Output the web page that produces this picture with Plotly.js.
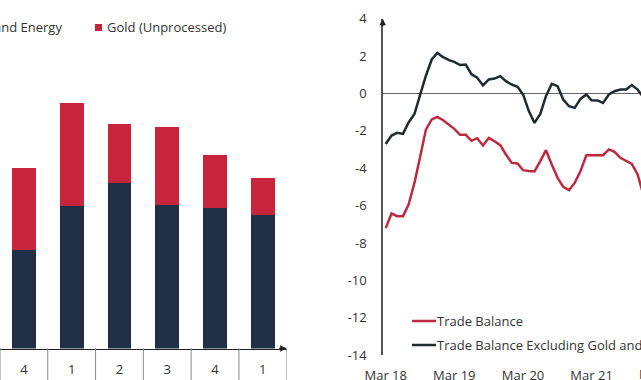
<!DOCTYPE html>
<html>
<head>
<meta charset="utf-8">
<script src="https://cdn.plot.ly/plotly-3.0.1.min.js"></script>
<style>html,body{margin:0;padding:0;background:#fff;}#chart{width:641px;height:380px;}</style>
</head>
<body>
<div id="chart"></div>
<script>
// Left panel: quarterly stacked bars
const quarters = ['4', '1', '2', '3', '4', '1'];
const exGoldEnergy = [9.9, 14.3, 16.6, 14.4, 14.1, 13.4];
const goldUnprocessed = [8.2, 10.3, 5.9, 7.8, 5.3, 3.7];

// Right panel: monthly trade balance
const months = ['2018-03','2018-04','2018-05','2018-06','2018-07','2018-08','2018-09','2018-10','2018-11','2018-12',
  '2019-01','2019-02','2019-03','2019-04','2019-05','2019-06','2019-07','2019-08','2019-09','2019-10','2019-11','2019-12',
  '2020-01','2020-02','2020-03','2020-04','2020-05','2020-06','2020-07','2020-08','2020-09','2020-10','2020-11','2020-12',
  '2021-01','2021-02','2021-03','2021-04','2021-05','2021-06','2021-07','2021-08','2021-09','2021-10','2021-11','2021-12',
  '2022-01'];
const tradeBalance = [-7.2,-6.42,-6.56,-6.56,-5.94,-4.78,-3.35,-1.93,-1.39,-1.25,-1.43,-1.66,-1.89,-2.21,-2.21,-2.53,-2.39,-2.78,-2.37,-2.55,-2.76,-3.26,-3.71,-3.74,-4.10,-4.14,-4.17,-3.62,-3.03,-3.80,-4.51,-4.99,-5.17,-4.78,-4.15,-3.30,-3.30,-3.30,-3.30,-2.99,-3.12,-3.44,-3.58,-3.76,-4.33,-5.4,-6.2];
const tradeBalanceExGE = [-2.7,-2.25,-2.1,-2.16,-1.55,-1.1,-0.05,0.95,1.82,2.17,1.94,1.78,1.69,1.52,1.55,1.02,0.84,0.43,0.75,0.80,0.93,0.66,0.48,0.36,-0.05,-0.94,-1.57,-1.09,-0.14,0.52,0.39,-0.32,-0.68,-0.77,-0.29,-0.05,-0.36,-0.37,-0.50,-0.05,0.12,0.21,0.21,0.45,0.21,-0.2,-0.5];
const yTickVals = [4, 2, 0, -2, -4, -6, -8, -10, -12, -14];
const yTickText = ['4', '2', '0', '-2', '-4', '-6', '-8', '-10', '-12', '-14'];
const legendLeft = ['Excluding Gold and Energy', 'Gold (Unprocessed)'];
const legendRight = ['Trade Balance', 'Trade Balance Excluding Gold and Energy'];

const W = 641, H = 380;
const px = v => v / W, py = v => (H - v) / H;
const NAVY = '#1f2f45', RED = '#c8243c';
const LRED = '#bd2a40', DARK = '#1e2b30';
const FONT = {family: '"Open Sans", sans-serif', size: 13, color: '#333'};
const idx = quarters.map((q, i) => i);

const traces = [
  {type: 'bar', x: idx, y: exGoldEnergy, name: legendLeft[0], marker: {color: NAVY}, width: 0.5, xaxis: 'x', yaxis: 'y'},
  {type: 'bar', x: idx, y: goldUnprocessed, name: legendLeft[1], marker: {color: RED}, width: 0.5, xaxis: 'x', yaxis: 'y'},
  {type: 'scatter', mode: 'lines', x: months, y: tradeBalance, name: legendRight[0], line: {color: LRED, width: 2.5}, xaxis: 'x2', yaxis: 'y2'},
  {type: 'scatter', mode: 'lines', x: months, y: tradeBalanceExGE, name: legendRight[1], line: {color: DARK, width: 2.5}, xaxis: 'x2', yaxis: 'y2'}
];

const shapes = [];
for (let k = 0; k <= quarters.length; k++) {
  shapes.push({type: 'line', xref: 'x', yref: 'paper', x0: k - 0.5, x1: k - 0.5, y0: py(348.5), y1: -0.05, line: {color: '#888', width: 1}});
}
shapes.push({type: 'rect', xref: 'paper', yref: 'paper', x0: px(95), x1: px(102), y0: py(31), y1: py(24), fillcolor: RED, line: {width: 0}});
shapes.push({type: 'line', xref: 'paper', yref: 'paper', x0: px(412), x1: px(436), y0: py(321), y1: py(321), line: {color: LRED, width: 2.5}});
shapes.push({type: 'line', xref: 'paper', yref: 'paper', x0: px(412), x1: px(436), y0: py(345), y1: py(345), line: {color: DARK, width: 2.5}});

const annotations = [
  {xref: 'paper', yref: 'paper', x: px(64), y: py(27), xanchor: 'right', yanchor: 'middle', text: legendLeft[0], showarrow: false, font: FONT},
  {xref: 'paper', yref: 'paper', x: px(105), y: py(27), xanchor: 'left', yanchor: 'middle', text: legendLeft[1], showarrow: false, font: FONT},
  {xref: 'paper', yref: 'paper', x: px(435), y: py(321), xanchor: 'left', yanchor: 'middle', text: legendRight[0], showarrow: false, font: FONT},
  {xref: 'paper', yref: 'paper', x: px(435), y: py(345), xanchor: 'left', yanchor: 'middle', text: legendRight[1], showarrow: false, font: FONT},
  {xref: 'x', yref: 'y', x: 5.5, y: 0, ax: -9, ay: 0, text: '', showarrow: true, arrowhead: 2, arrowsize: 1, arrowwidth: 1.3, arrowcolor: '#222'},
  {xref: 'paper', yref: 'y2', x: px(382.7), y: 4, ax: 0, ay: 9, text: '', showarrow: true, arrowhead: 2, arrowsize: 1, arrowwidth: 1.3, arrowcolor: '#222'},
  {xref: 'paper', yref: 'paper', x: px(660), y: py(374), xanchor: 'center', yanchor: 'middle', text: 'Mar 22', showarrow: false, font: FONT}
];

const layout = {
  width: W, height: H,
  margin: {l: 0, r: 0, t: 0, b: 0},
  paper_bgcolor: '#fff', plot_bgcolor: 'rgba(0,0,0,0)',
  showlegend: false,
  barmode: 'stack',
  font: FONT,
  xaxis: {domain: [0, px(286.7)], range: [-0.5, 5.5], tickvals: idx, ticktext: quarters, ticks: '',
          showline: true, linecolor: '#222', linewidth: 1.3, showgrid: false, zeroline: false,
          ticklabelstandoff: 9, tickfont: FONT, fixedrange: true},
  yaxis: {domain: [py(348.5), 1], range: [0, 34.85], visible: false, fixedrange: true},
  xaxis2: {domain: [px(382.7), 1], anchor: 'y2', type: 'date', range: ['2018-02-13', '2021-11-19'],
           tick0: '2018-03-01', dtick: 'M12', tickformat: '%b %y', ticks: '', showline: false,
           showgrid: false, zeroline: false, ticklabelstandoff: 11, tickfont: FONT, fixedrange: true},
  yaxis2: {domain: [py(355.3), py(18.7)], anchor: 'x2', range: [-14, 4], tickvals: yTickVals, ticktext: yTickText, ticks: '',
           showline: true, linecolor: '#555', linewidth: 1.5, showgrid: false,
           zeroline: true, zerolinecolor: '#666', zerolinewidth: 1.2,
           ticklabelstandoff: 12, tickfont: FONT, fixedrange: true},
  shapes: shapes,
  annotations: annotations
};

Plotly.newPlot('chart', traces, layout, {displayModeBar: false, staticPlot: true});
</script>
</body>
</html>
